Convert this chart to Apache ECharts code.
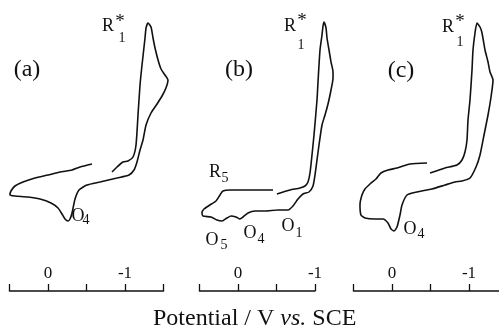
<!DOCTYPE html>
<html>
<head>
<meta charset="utf-8">
<script src="https://cdn.jsdelivr.net/npm/echarts@6/dist/echarts.min.js"></script>
<style>
html, body { margin: 0; padding: 0; background: #fff; }
#cv { width: 499px; height: 329px; }
</style>
</head>
<body>
<div id="cv"></div>
<script>
var
// --------------------------------------------------------------------------------------------------------------------------------
/* voltammograms: [potential V vs SCE, current (arb.)] */
cvA = [
	[-0.831, 11.9], [-0.896, 12.4], [-0.974, 12.9], [-1.039, 13.0], [-1.104, 13.4], [-1.143, 14.6], [-1.169, 17.6],
	[-1.195, 20.6], [-1.221, 22.6], [-1.260, 25.3], [-1.273, 26.3], [-1.299, 26.8], [-1.338, 26.4], [-1.364, 25.3],
	[-1.390, 24.3], [-1.429, 23.1], [-1.468, 22.2], [-1.519, 21.6], [-1.558, 21.1], [-1.532, 20.3], [-1.481, 19.5],
	[-1.416, 18.7], [-1.338, 17.8], [-1.273, 16.6], [-1.234, 15.1], [-1.195, 14.1], [-1.156, 12.9], [-1.117, 12.1],
	[-1.052, 11.6], [-0.896, 11.3], [-0.675, 10.9], [-0.506, 10.6], [-0.403, 10.1], [-0.351, 9.2], [-0.312, 7.8],
	[-0.286, 7.2], [-0.260, 7.0], [-0.221, 7.2], [-0.182, 7.7], [-0.130, 8.3], [-0.039, 8.8], [0.104, 9.2],
	[0.260, 9.4], [0.429, 9.5], [0.494, 9.6], [0.481, 10.0], [0.429, 10.5], [0.325, 10.9], [0.169, 11.3],
	[0.000, 11.6], [-0.156, 11.9], [-0.312, 12.1], [-0.416, 12.4], [-0.571, 12.7]
],
cvB = [
	[-0.506, 9.7], [-0.675, 10.1], [-0.805, 10.3], [-0.870, 10.5], [-0.909, 10.9], [-0.935, 11.8], [-0.961, 13.6],
	[-0.987, 15.6], [-1.026, 19.1], [-1.039, 20.9], [-1.065, 24.1], [-1.091, 25.6], [-1.104, 26.5], [-1.117, 26.9],
	[-1.143, 26.3], [-1.156, 25.3], [-1.182, 24.1], [-1.208, 22.9], [-1.234, 21.9], [-1.234, 21.3], [-1.208, 20.1],
	[-1.169, 18.7], [-1.130, 17.6], [-1.091, 16.6], [-1.052, 14.6], [-1.026, 13.1], [-1.000, 11.6], [-0.974, 10.5],
	[-0.922, 9.9], [-0.844, 9.7], [-0.779, 9.2], [-0.714, 8.5], [-0.649, 8.1], [-0.519, 8.1], [-0.351, 8.0],
	[-0.221, 8.0], [-0.130, 7.8], [-0.065, 7.4], [-0.026, 7.2], [0.026, 7.4], [0.091, 7.5], [0.143, 7.3],
	[0.208, 7.0], [0.273, 7.1], [0.351, 7.4], [0.455, 7.5], [0.468, 7.8], [0.442, 8.2], [0.364, 8.6],
	[0.286, 9.0], [0.234, 9.6], [0.195, 10.0], [0.104, 10.1], [-0.156, 10.1], [-0.455, 10.1]
],
cvC = [
	[-0.494, 11.8], [-0.688, 12.3], [-0.844, 12.6], [-0.909, 13.1], [-0.948, 13.9], [-0.974, 15.1], [-0.987, 17.1],
	[-1.013, 19.1], [-1.039, 22.1], [-1.052, 24.1], [-1.078, 25.8], [-1.104, 26.8], [-1.143, 26.4], [-1.169, 25.8],
	[-1.208, 24.1], [-1.247, 22.9], [-1.273, 21.9], [-1.312, 21.1], [-1.286, 19.4], [-1.247, 17.6], [-1.195, 15.6],
	[-1.143, 13.6], [-1.091, 12.4], [-1.013, 11.3], [-0.909, 11.0], [-0.818, 10.9], [-0.688, 10.6], [-0.519, 10.2],
	[-0.325, 9.9], [-0.195, 9.6], [-0.130, 8.6], [-0.104, 7.6], [-0.065, 6.4], [-0.026, 6.0], [0.013, 6.2],
	[0.052, 6.8], [0.117, 7.2], [0.221, 7.2], [0.351, 7.3], [0.403, 7.6], [0.416, 8.6], [0.390, 9.6],
	[0.351, 10.2], [0.286, 10.7], [0.208, 11.2], [0.143, 11.8], [0.052, 12.1], [-0.065, 12.3], [-0.234, 12.7],
	[-0.455, 12.8]
],
/* peak labels: [potential, current, text, kind] */
labA = [
	[0.273, 22.1, '(a)', 'tag'], [-0.779, 26.5, 'R', 'main'], [-0.935, 26.9, '*', 'star'], [-0.961, 25.3, '1', 'sub'],
	[-0.390, 7.5, 'O', 'main'], [-0.494, 7.1, '4', 'sub']
],
labB = [
	[-0.013, 22.1, '(b)', 'tag'], [-0.675, 26.5, 'R', 'main'], [-0.831, 27.0, '*', 'star'], [-0.818, 24.6, '1', 'sub'],
	[0.299, 11.9, 'R', 'main'], [0.169, 11.3, '5', 'sub'], [0.338, 5.1, 'O', 'main'], [0.182, 4.6, '5', 'sub'],
	[-0.156, 5.8, 'O', 'main'], [-0.299, 5.2, '4', 'sub'], [-0.649, 6.5, 'O', 'main'], [-0.792, 5.8, '1', 'sub']
],
labC = [
	[-0.117, 22.0, '(c)', 'tag'], [-0.727, 26.4, 'R', 'main'], [-0.883, 26.9, '*', 'star'], [-0.883, 24.9, '1', 'sub'],
	[-0.234, 6.2, 'O', 'main'], [-0.377, 5.7, '4', 'sub']
],
/* tick labels shown on each potential axis */
tickText = { '0': '0', '-1': '-1' },
axisTitle = 'Potential / V {i|vs.} SCE',

// --------------------------------------------------------------------------------------------------------------------------------
SERIF = "'Liberation Serif', 'DejaVu Serif', serif",
INK = '#111',
fontSizes = { tag: 24, main: 18, star: 19, sub: 14 },
PX_PER_V = 77,

/* 画面: one axis grid per panel, potential runs left to right from +0.5 V */
panels = [
	{ left: 9.5, min: -1.5, data: cvA, labels: labA },
	{ left: 199.5, min: -1.0, data: cvB, labels: labB },
	{ left: 353.5, min: -1.5, data: cvC, labels: labC }
],
// the curves poke past the axis end, so they sit on a wider hidden grid with the same scale
DATA_MIN = -1.75,

$each = function(arr, fn) {
	for (var k = 0; k < arr.length; k++) fn(arr[k], k);
},

makeOption = function() {
	var grids = [], xAxes = [], yAxes = [], series = [], n = panels.length;
	// visible potential axes
	$each(panels, function(p, k) {
		grids.push({ left: p.left, width: (0.5 - p.min) * PX_PER_V, top: 0, height: 291, outerBoundsMode: 'none' });
		xAxes.push({
			gridIndex: k,
			type: 'value',
			inverse: true,
			min: p.min,
			max: 0.5,
			interval: 0.5,
			axisLine: { show: true, onZero: false, lineStyle: { color: INK, width: 1.5 } },
			axisTick: { show: true, inside: true, length: 7, lineStyle: { color: INK, width: 1.3 } },
			axisLabel: {
				show: true,
				inside: true,
				margin: 9,
				color: INK,
				fontFamily: SERIF,
				fontSize: 17,
				showMinLabel: true,
				showMaxLabel: true,
				formatter: function(v) {
					return tickText[String(v)] || '';
				}
			},
			splitLine: { show: false }
		});
		yAxes.push({ gridIndex: k, type: 'value', min: 0, max: 29.1, show: false });
	});
	// hidden data grids
	$each(panels, function(p, k) {
		var g = n + k;
		grids.push({ left: p.left, width: (0.5 - DATA_MIN) * PX_PER_V, top: 0, height: 291, outerBoundsMode: 'none' });
		xAxes.push({ gridIndex: g, type: 'value', inverse: true, min: DATA_MIN, max: 0.5, show: false });
		yAxes.push({ gridIndex: g, type: 'value', min: 0, max: 29.1, show: false });
		series.push({
			type: 'line',
			xAxisIndex: g,
			yAxisIndex: g,
			data: p.data,
			showSymbol: false,
			smooth: 0.2,
			clip: false,
			lineStyle: { color: INK, width: 1.6 }
		});
		series.push({
			type: 'scatter',
			xAxisIndex: g,
			yAxisIndex: g,
			symbolSize: 0,
			clip: false,
			itemStyle: { color: INK },
			data: p.labels.map(function(l) {
				return {
					value: [l[0], l[1]],
					label: {
						show: true,
						position: [0, 0],
						align: 'center',
						verticalAlign: 'middle',
						formatter: l[2],
						color: INK,
						opacity: 1,
						fontFamily: SERIF,
						fontSize: fontSizes[l[3]]
					}
				};
			})
		});
	});
	return {
		animation: false,
		backgroundColor: '#fff',
		title: {
			text: axisTitle,
			left: 153,
			top: 307,
			padding: 0,
			textStyle: {
				fontFamily: SERIF,
				fontSize: 24,
				fontWeight: 'normal',
				color: INK,
				rich: { i: { fontFamily: SERIF, fontSize: 24, fontStyle: 'italic', color: INK } }
			}
		},
		grid: grids,
		xAxis: xAxes,
		yAxis: yAxes,
		series: series
	};
};

var chart = echarts.init(document.getElementById('cv'), null, { renderer: 'canvas' });
chart.setOption(makeOption());
</script>
</body>
</html>
